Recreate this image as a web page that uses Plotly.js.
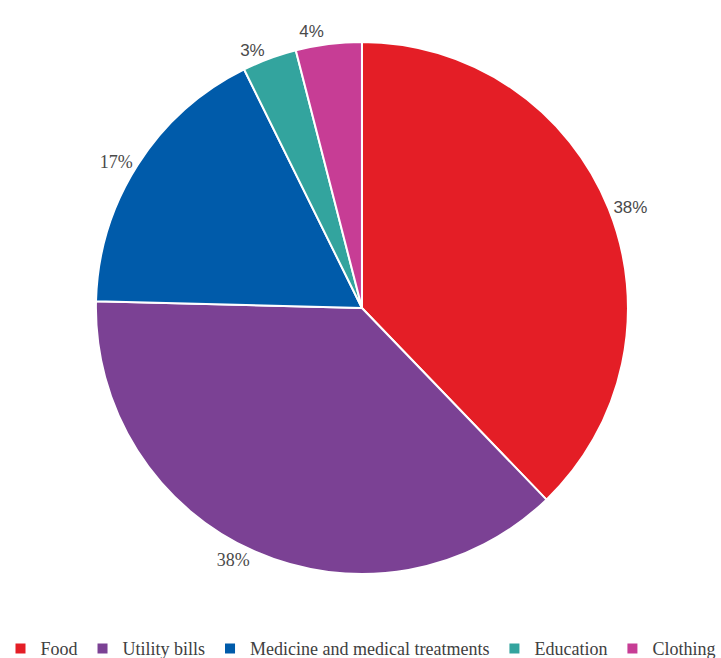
<!DOCTYPE html>
<html>
<head>
<meta charset="utf-8">
<script src="https://cdn.plot.ly/plotly-3.0.1.min.js"></script>
<style>html,body{margin:0;padding:0;background:#fff;}#chart{width:721px;height:658px;}#chart .textline{display:none;}</style>
</head>
<body>
<div id="chart"></div>
<script>
const categories = ["Food", "Utility bills", "Medicine and medical treatments", "Education", "Clothing"];
const shares = [37.8, 37.6, 17.3, 3.3, 4.0];
const sliceLabels = ["38%", "38%", "17%", "3%", "4%"];
const colors = ["#E41E26", "#7B4194", "#005BAA", "#33A49E", "#C73D95"];
const labelFonts = ["Liberation Sans, Arial, sans-serif", "Liberation Serif, Times New Roman, serif", "Liberation Serif, Times New Roman, serif", "Liberation Sans, Arial, sans-serif", "Liberation Sans, Arial, sans-serif"];
const labelSizes = [17, 18, 18, 17, 17];

const trace = {
  type: "pie",
  labels: categories,
  values: shares,
  text: sliceLabels,
  texttemplate: "%{text}",
  textinfo: "text",
  textposition: "outside",
  textfont: {family: labelFonts, size: labelSizes, color: "#4a4a4a"},
  outsidetextfont: {family: labelFonts, size: labelSizes, color: "#4a4a4a"},
  marker: {colors: colors, line: {color: "#ffffff", width: 2}},
  sort: false,
  direction: "clockwise",
  rotation: 0,
  hole: 0,
  domain: {x: [0.133, 0.871], y: [0.1276, 0.9362]},
  automargin: false
};

const layout = {
  width: 721,
  height: 658,
  margin: {l: 0, r: 0, t: 0, b: 0, autoexpand: false},
  paper_bgcolor: "#ffffff",
  showlegend: true,
  legend: {
    orientation: "h",
    x: 0.5, xanchor: "center",
    y: -0.014, yanchor: "bottom",
    font: {family: "Liberation Serif, Times New Roman, serif", size: 18, color: "#404040"},
    itemwidth: 30,
    tracegroupgap: 0
  }
};

Plotly.newPlot("chart", [trace], layout, {displayModeBar: false, staticPlot: true});
</script>
</body>
</html>
